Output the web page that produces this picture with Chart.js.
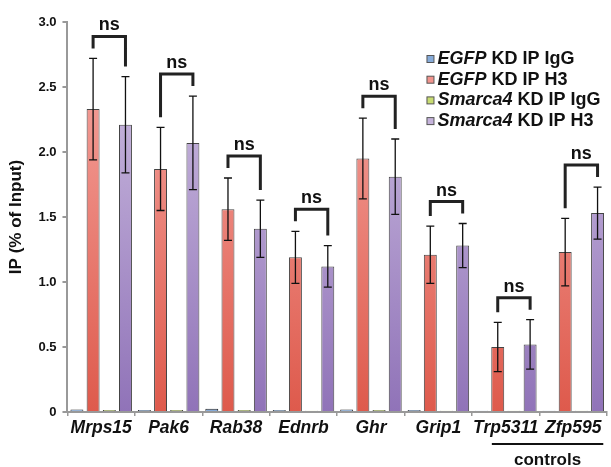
<!DOCTYPE html>
<html>
<head>
<meta charset="utf-8">
<script src="https://cdn.jsdelivr.net/npm/chart.js@4/dist/chart.umd.min.js"></script>
<style>
  html, body { margin: 0; padding: 0; background: #fff; }
  #wrap { width: 611px; height: 467px; }
</style>
</head>
<body>
<div id="wrap"><canvas id="myChart" width="611" height="467"></canvas></div>
<script>
// genes on the x axis
const genes = ['Mrps15', 'Pak6', 'Rab38', 'Ednrb', 'Ghr', 'Grip1', 'Trp5311', 'Zfp595'];

// series values (IP, % of input)
const egfpIgG    = [0.02, 0.015, 0.025, 0.015, 0.02, 0.015, 0.01, 0.01];
const egfpH3     = [2.33, 1.87, 1.56, 1.19, 1.95, 1.21, 0.50, 1.23];
const smarcaIgG  = [0.015, 0.015, 0.015, 0.01, 0.015, 0.01, 0.01, 0.01];
const smarcaH3   = [2.21, 2.07, 1.41, 1.12, 1.81, 1.28, 0.52, 1.53];

// error bar half-widths (SEM)
const egfpH3Err   = [0.39, 0.32, 0.24, 0.20, 0.31, 0.22, 0.19, 0.26];
const smarcaH3Err = [0.37, 0.36, 0.22, 0.16, 0.29, 0.17, 0.19, 0.20];

// significance labels for each gene
const sigLabels = ['ns', 'ns', 'ns', 'ns', 'ns', 'ns', 'ns', 'ns'];

const yTicks = [0, 0.5, 1.0, 1.5, 2.0, 2.5, 3.0];

const FONT = '"Liberation Sans", Arial, Helvetica, sans-serif';

function grad(ctx, top, bottom) {
  const chart = ctx.chart;
  const area = chart.chartArea;
  if (!area) return top;
  const g = chart.ctx.createLinearGradient(0, area.top, 0, area.bottom);
  g.addColorStop(0, top);
  g.addColorStop(1, bottom);
  return g;
}

const errorBars = {
  id: 'errorBars',
  afterDatasetsDraw(chart) {
    const c = chart.ctx;
    const y = chart.scales.y;
    const pairs = [[1, egfpH3, egfpH3Err], [3, smarcaH3, smarcaH3Err]];
    c.save();
    c.strokeStyle = '#111';
    c.lineWidth = 1.3;
    const tops = [];
    pairs.forEach(([di, vals, errs], k) => {
      const meta = chart.getDatasetMeta(di);
      meta.data.forEach((bar, i) => {
        const hi = y.getPixelForValue(vals[i] + errs[i]);
        const lo = y.getPixelForValue(vals[i] - errs[i]);
        c.beginPath();
        c.moveTo(bar.x, hi); c.lineTo(bar.x, lo);
        c.moveTo(bar.x - 4, hi); c.lineTo(bar.x + 4, hi);
        c.moveTo(bar.x - 4, lo); c.lineTo(bar.x + 4, lo);
        c.stroke();
        if (!tops[i]) tops[i] = [];
        tops[i][k] = { x: bar.x, y: hi };
      });
    });
    // brackets with "ns"
    c.lineWidth = 3;
    c.strokeStyle = '#222';
    c.fillStyle = '#111';
    c.font = 'bold 18px ' + FONT;
    c.textAlign = 'center';
    c.textBaseline = 'alphabetic';
    tops.forEach((t, i) => {
      const a = t[0], b = t[1];
      const top = Math.min(a.y, b.y) - 22;
      c.beginPath();
      c.moveTo(a.x, a.y - 10);
      c.lineTo(a.x, top);
      c.lineTo(b.x, top);
      c.lineTo(b.x, b.y - 10);
      c.stroke();
      c.fillText(sigLabels[i], (a.x + b.x) / 2, top - 6);
    });
    c.restore();
  }
};

const extras = {
  id: 'extras',
  afterDraw(chart) {
    const c = chart.ctx;
    const area = chart.chartArea;
    const x = chart.scales.x;
    c.save();
    // "controls" line and label
    const x1 = x.getPixelForValue(6) - 14;
    const x2 = x.getPixelForValue(7) + 30;
    c.strokeStyle = '#111';
    c.lineWidth = 2;
    c.beginPath();
    c.moveTo(x1, area.bottom + 32);
    c.lineTo(x2, area.bottom + 32);
    c.stroke();
    c.fillStyle = '#111';
    c.font = 'bold 17px ' + FONT;
    c.textAlign = 'center';
    c.textBaseline = 'middle';
    c.fillText('controls', (x1 + x2) / 2, area.bottom + 48);

    // legend
    const lx = area.left + 363;
    let ly = area.top + 37;
    chart.data.datasets.forEach((ds) => {
      c.fillStyle = ds.legendColor;
      c.strokeStyle = '#555';
      c.lineWidth = 1;
      c.fillRect(lx - 3.5, ly - 3.5, 7, 7);
      c.strokeRect(lx - 3.5, ly - 3.5, 7, 7);
      const parts = ds.label.split(' ');
      const it = parts[0];
      const rest = ' ' + parts.slice(1).join(' ');
      c.fillStyle = '#111';
      c.textAlign = 'left';
      c.textBaseline = 'middle';
      c.font = 'italic bold 18px ' + FONT;
      c.fillText(it, lx + 7, ly);
      const w = c.measureText(it).width;
      c.font = 'bold 18px ' + FONT;
      c.fillText(rest, lx + 7 + w, ly);
      ly += 20.7;
    });
    c.restore();
  }
};

const ctx = document.getElementById('myChart');

new Chart(ctx, {
  type: 'bar',
  data: {
    labels: genes,
    datasets: [
      {
        label: 'EGFP KD IP IgG',
        data: egfpIgG,
        legendColor: '#86abd9',
        backgroundColor: '#86abd9',
        borderColor: '#222',
        borderWidth: 1
      },
      {
        label: 'EGFP KD IP H3',
        data: egfpH3,
        legendColor: '#f1948d',
        backgroundColor: (c) => grad(c, '#f7aaa5', '#de5a4c'),
        borderColor: '#444',
        borderWidth: 1
      },
      {
        label: 'Smarca4 KD IP IgG',
        data: smarcaIgG,
        legendColor: '#c8dc72',
        backgroundColor: '#c8dc72',
        borderColor: '#222',
        borderWidth: 1
      },
      {
        label: 'Smarca4 KD IP H3',
        data: smarcaH3,
        legendColor: '#c5b3db',
        backgroundColor: (c) => grad(c, '#d2c3e4', '#9073b8'),
        borderColor: '#444',
        borderWidth: 1
      }
    ]
  },
  options: {
    responsive: false,
    animation: false,
    layout: { padding: { top: 22, right: 4, bottom: 26, left: 2 } },
    datasets: {
      bar: { categoryPercentage: 0.96, barPercentage: 0.8 }
    },
    plugins: {
      legend: { display: false },
      tooltip: { enabled: false }
    },
    scales: {
      x: {
        border: { color: '#999', width: 2 },
        grid: { drawOnChartArea: false, color: '#999', tickLength: 4, lineWidth: 1.5 },
        ticks: {
          color: '#111',
          padding: 2,
          maxRotation: 0,
          minRotation: 0,
          autoSkip: false,
          font: { family: FONT, size: 17.5, weight: 'bold', style: 'italic' }
        }
      },
      y: {
        min: 0,
        max: 3.0,
        afterBuildTicks: (s) => { s.ticks = yTicks.map(v => ({ value: v })); },
        border: { color: '#999', width: 2 },
        grid: { drawOnChartArea: false, color: '#999', tickLength: 5, lineWidth: 2 },
        ticks: {
          color: '#111',
          padding: 6,
          font: { family: FONT, size: 13, weight: 'bold' },
          callback: (v) => v === 0 ? '0' : Number(v).toFixed(1)
        },
        title: {
          display: true,
          text: 'IP (% of Input)',
          color: '#111',
          padding: { bottom: 6 },
          font: { family: FONT, size: 17, weight: 'bold' }
        }
      }
    }
  },
  plugins: [errorBars, extras]
});
</script>
</body>
</html>
